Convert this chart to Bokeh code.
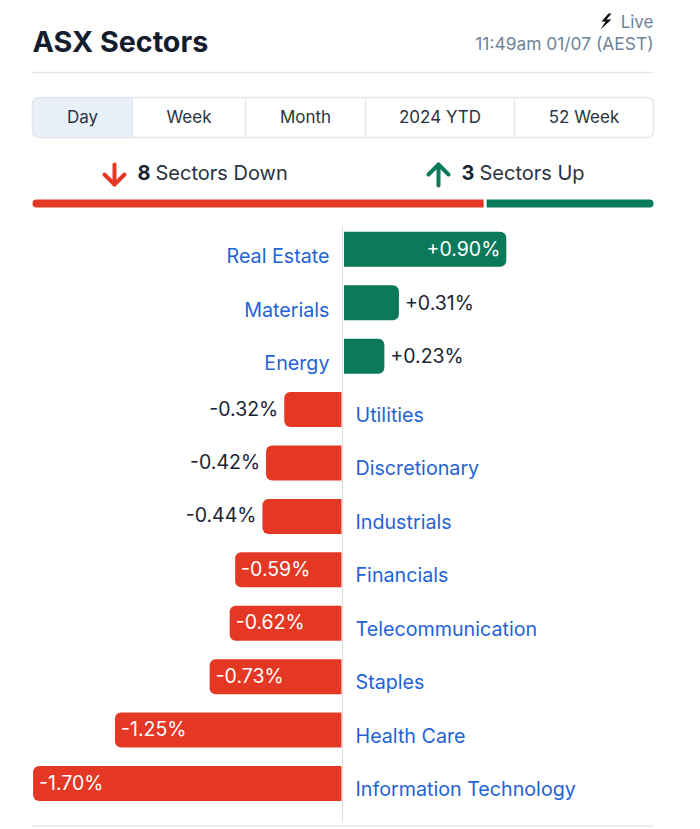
from bokeh.plotting import figure
from bokeh.models import Range1d, ColumnDataSource
from bokeh.core.properties import value
from bokeh.embed import file_html
from bokeh.resources import INLINE

sectors = ["Real Estate", "Materials", "Energy", "Utilities", "Discretionary", "Industrials",
           "Financials", "Telecommunication", "Staples", "Health Care", "Information Technology"]
changes = [0.90, 0.31, 0.23, -0.32, -0.42, -0.44, -0.59, -0.62, -0.73, -1.25, -1.70]
tabs = ["Day", "Week", "Month", "2024 YTD", "52 Week"]
sectors_down = 8
sectors_up = 3

GREEN = "#0b7a5a"
RED = "#e43825"
BLUE = "#1f63d6"
INK = "#1b2433"
SLATE = "#6d8499"
RULE = "#e3e8ee"
FONT = value("Inter")

W, H = 684, 829
SHIFT = 1.0
PX_PER_UNIT = 182.0
ZERO = 343.0
ROW0, STEP = 248.8, 53.42

p = figure(width=W, height=H, output_backend="svg", toolbar_location=None,
           x_range=Range1d((SHIFT - ZERO) / PX_PER_UNIT, (W + SHIFT - ZERO) / PX_PER_UNIT),
           y_range=Range1d((H - ROW0) / STEP, (0 - ROW0) / STEP),
           min_border=0, min_border_left=0, min_border_right=0, min_border_top=0, min_border_bottom=0,
           outline_line_color=None, background_fill_color="white", border_fill_color="white")
p.xaxis.visible = False
p.yaxis.visible = False
p.grid.visible = False
p.extra_x_ranges["px"] = Range1d(SHIFT, W + SHIFT)
p.extra_y_ranges["py"] = Range1d(H, 0)
PG = dict(x_range_name="px", y_range_name="py")


def txt(x, y, s, size, color=INK, align="left", style="normal"):
    p.text(x=[x], y=[y], text=[s], text_font=FONT, text_font_size=f"{size}px", text_color=color,
           text_align=align, text_baseline="middle", text_font_style=style, **PG)


# Header
txt(33, 41, "ASX Sectors", 28.7, "#141d2e", style="bold")
p.patch([609, 602, 606, 601, 612, 607, 612], [13, 21, 21, 29, 19, 19, 13], fill_color="#111111", line_color=None, **PG)
txt(654, 21, "Live", 17, SLATE, "right")
txt(654, 43, "11:49am 01/07 (AEST)", 17.4, SLATE, "right")
p.segment([33], [72], [654], [72], line_color=RULE, line_width=1.5, **PG)

# Tabs
tab_edges = [33, 133, 246, 366, 515, 654]
p.quad(left=[33], right=[133], top=[97], bottom=[137], fill_color="#e9f0f8", line_color=None,
       border_radius=(6, 0, 0, 6), **PG)
p.quad(left=[33], right=[654], top=[97], bottom=[137], fill_color=None, line_color=RULE, line_width=1.5,
       border_radius=6, **PG)
p.segment(tab_edges[1:-1], [97] * 4, tab_edges[1:-1], [137] * 4, line_color=RULE, line_width=1.2, **PG)
for i, t in enumerate(tabs):
    txt((tab_edges[i] + tab_edges[i + 1]) / 2, 116.5, t, 17, "#2a3342", "center")

# Up / down counts
p.multi_line([[115, 115], [105, 115, 125]], [[164, 184], [174, 184, 174]], line_color=RED, line_width=4,
             line_cap="round", line_join="round", **PG)
p.multi_line([[439, 439], [429, 439, 449]], [[185, 164], [174, 164, 174]], line_color=GREEN, line_width=4,
             line_cap="round", line_join="round", **PG)
txt(138, 172, str(sectors_down), 20, INK, style="bold")
txt(156, 172, "Sectors Down", 20, "#2a3342")
txt(462, 172, str(sectors_up), 20, INK, style="bold")
txt(480, 172, "Sectors Up", 20, "#2a3342")

split = 33 + 621 * sectors_down / (sectors_down + sectors_up)
p.quad(left=[33], right=[split - 0.5], top=[199], bottom=[207], fill_color=RED, line_color=None,
       border_radius=(4, 0, 0, 4), **PG)
p.quad(left=[split + 2.5], right=[654], top=[199], bottom=[207], fill_color=GREEN, line_color=None,
       border_radius=(0, 4, 4, 0), **PG)

# Bars
rows = list(range(len(sectors)))
pos = [i for i in rows if changes[i] >= 0]
neg = [i for i in rows if changes[i] < 0]
bar_h = 35 / STEP
p.hbar(y=pos, height=bar_h, left=[1.5 / PX_PER_UNIT] * len(pos), right=[changes[i] for i in pos],
       fill_color=GREEN, line_color=None, border_radius=(0, 6, 6, 0))
p.hbar(y=neg, height=bar_h, left=[-1 / PX_PER_UNIT] * len(neg), right=[changes[i] for i in neg],
       fill_color=RED, line_color=None, border_radius=(6, 0, 0, 6))
p.segment([ZERO], [226], [ZERO], [821], line_color="#dedede", line_width=1.2, **PG)


def val(i):
    return f"{changes[i]:+.2f}%"


def rowtext(idxs, xoff, dy, labels, color, align):
    src = ColumnDataSource(dict(
        x=[changes[i] for i in idxs], y=[i + dy / STEP for i in idxs], t=labels))
    r = p.text(x="x", y="y", text="t", source=src, text_font=FONT, text_font_size="19.5px", text_color=color,
               text_align=align, text_baseline="middle", x_offset=xoff)
    return r


# Value labels: inside the bar when it is wide enough, beside it otherwise
inside_pos = [i for i in pos if changes[i] > 0.5]
outside_pos = [i for i in pos if changes[i] <= 0.5]
inside_neg = [i for i in neg if changes[i] < -0.5]
outside_neg = [i for i in neg if changes[i] >= -0.5]
rowtext(inside_pos, -6, 0, [val(i) for i in inside_pos], "white", "right")
rowtext(outside_pos, 6, 0, [val(i) for i in outside_pos], INK, "left")
rowtext(inside_neg, 6, -1, [val(i) for i in inside_neg], "white", "left")
rowtext(outside_neg, -6, -1, [val(i) for i in outside_neg], INK, "right")

# Sector names on the opposite side of the axis
src = ColumnDataSource(dict(x=[0] * len(pos), y=[i + 7 / STEP for i in pos], t=[sectors[i] for i in pos]))
p.text(x="x", y="y", text="t", source=src, text_font=FONT, text_font_size="19.7px", text_color=BLUE,
       text_align="right", text_baseline="middle", x_offset=-13)
src = ColumnDataSource(dict(x=[0] * len(neg), y=[i + 5.5 / STEP for i in neg], t=[sectors[i] for i in neg]))
p.text(x="x", y="y", text="t", source=src, text_font=FONT, text_font_size="19.7px", text_color=BLUE,
       text_align="left", text_baseline="middle", x_offset=13)

p.segment([33], [825.5], [654], [825.5], line_color=RULE, line_width=1.5, **PG)

open("out.html", "w").write(file_html(p, INLINE))
